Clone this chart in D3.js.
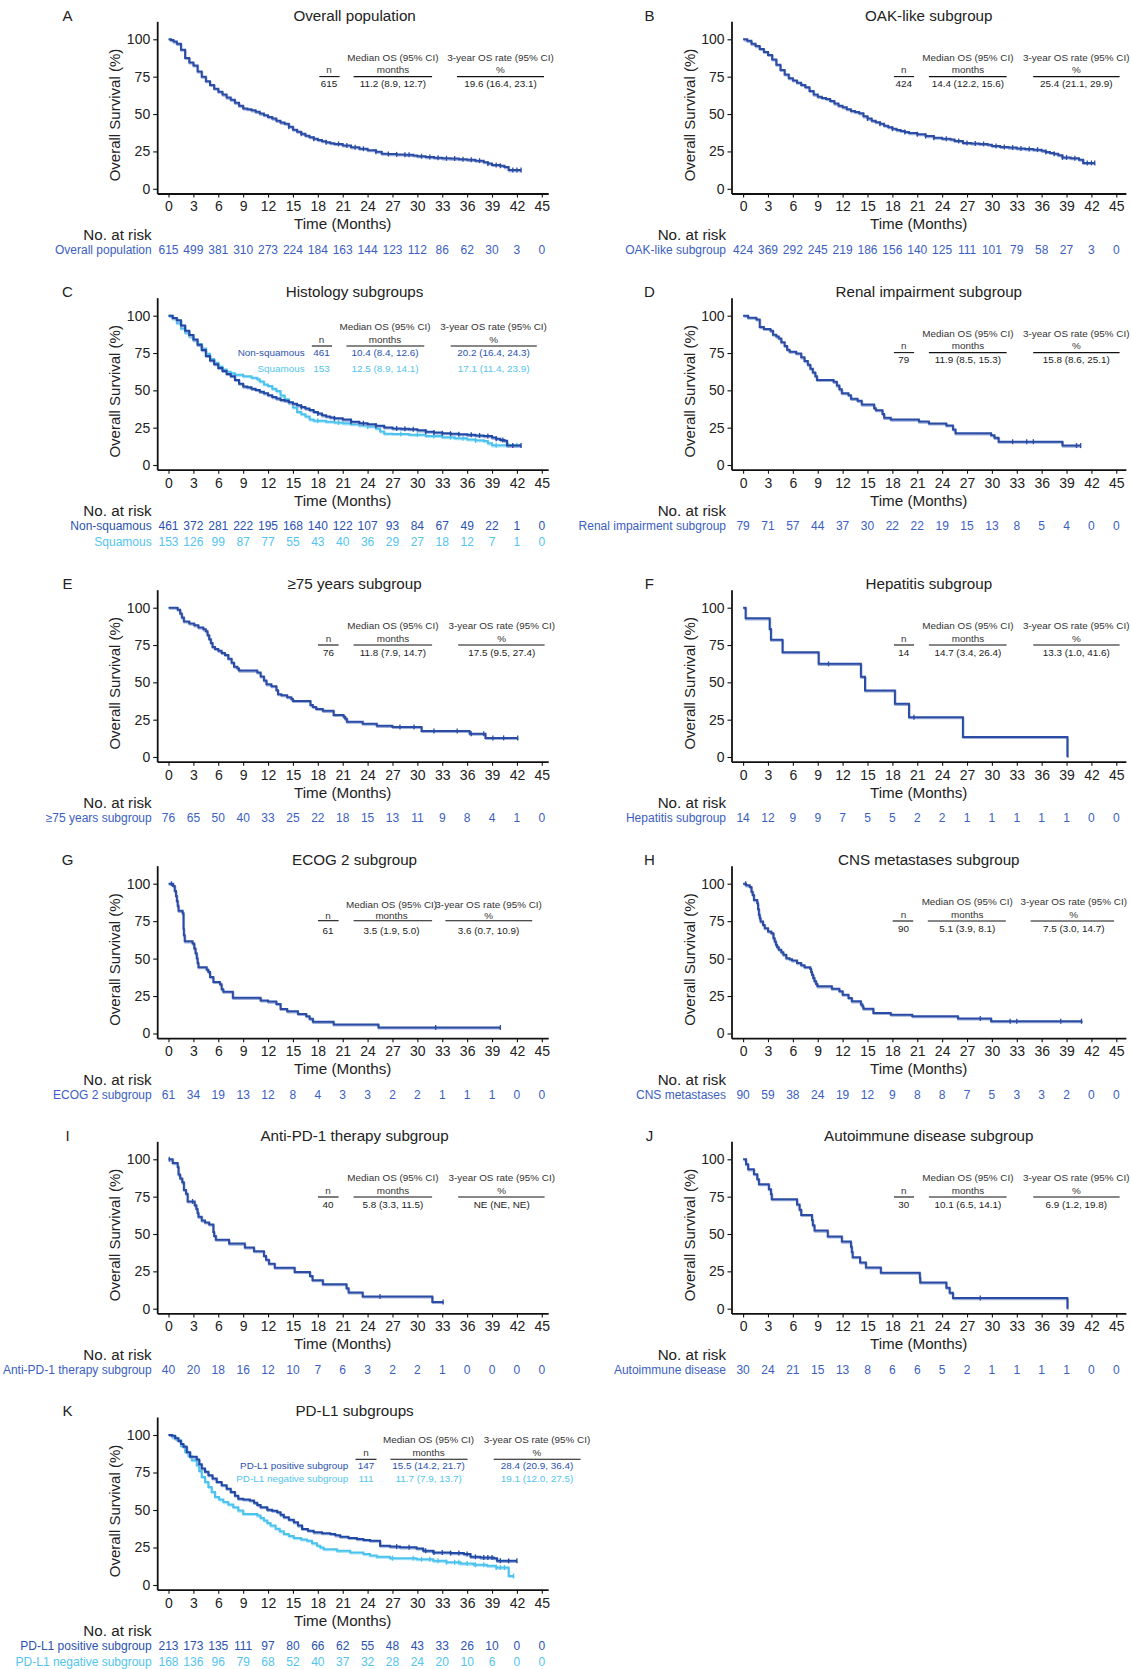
<!DOCTYPE html>
<html lang="en">
<head>
<meta charset="UTF-8">
<title>Overall survival by subgroup</title>
<script src="https://cdn.jsdelivr.net/npm/d3@7"></script>
<style>
  body { margin: 0; background: #fff; }
  svg text { font-family: "Liberation Sans", Arial, Helvetica, sans-serif; }
</style>
</head>
<body>
<svg id="chart" width="1132" height="1669"></svg>
<script>
// Axis tick labels
const timeTicks = [0, 3, 6, 9, 12, 15, 18, 21, 24, 27, 30, 33, 36, 39, 42, 45];
const survTicks = [0, 25, 50, 75, 100];

// Kaplan-Meier curves: [month, survival %]
const curveA = [[0,100],[0.3,99.5],[0.6,98.5],[1.0,97],[1.5,93],[2.0,87.5],[2.5,84.5],[3.0,82.5],[3.5,78.5],[4.0,75],[4.5,72],[5.0,69.5],[5.5,67],[6.0,65],[6.5,63],[7.0,61],[7.5,59.5],[8.0,57.5],[8.5,55.5],[9.0,53.7],[9.5,53.2],[10.0,52.5],[10.5,51.5],[11.0,50.3],[11.5,49.2],[12.0,48],[12.5,47],[13.0,45.5],[13.5,44.3],[14.0,43.5],[14.5,41.5],[15.0,39.5],[15.5,38.2],[16.0,36.8],[16.5,35.5],[17.0,34.5],[17.5,33.5],[18.0,32.6],[18.5,31.8],[19.0,31.2],[19.5,30.5],[20.0,30],[21.0,29],[22.0,27.8],[23.0,26.8],[24.0,25.8],[25.0,24.8],[25.7,23.5],[26.5,23.2],[27.5,23],[28.5,22.7],[29.5,22.3],[30.0,21.8],[31.0,21.2],[32.0,20.8],[33.0,20.4],[34.0,20.2],[35.0,19.8],[36.0,19.4],[37.0,18.8],[38.0,17.8],[38.5,17],[39.0,16],[40.0,15.5],[40.5,14.5],[41.0,12.5],[42.5,12.5]];
const censA = [14.5,16,17.5,19,20.5,21.5,22.5,23.5,25,26.5,27.5,28.5,29,30.5,31.5,32.5,33.5,34.5,35.5,36.5,37.5,38.5,39.5,40,41.5,42,42.5];

const curveB = [[0,100],[0.5,99],[1.0,97],[1.5,95.5],[2.0,93.5],[2.5,91.5],[3.0,89.5],[3.5,86.5],[4.0,83],[4.5,79.5],[5.0,76.5],[5.5,74],[6.0,72.5],[6.5,71],[7.0,69.5],[7.5,68],[8.0,65.5],[8.5,63],[9.0,61.5],[9.5,60.8],[10.0,60],[10.5,58.8],[11.0,57],[11.5,55.5],[12.0,54.5],[12.5,53.2],[13.0,52],[13.5,51.3],[14.0,50.5],[14.5,48.5],[15.0,47],[15.5,45.5],[16.0,44.5],[16.5,43.5],[17.0,42.2],[17.5,41.2],[18.0,40.2],[18.5,39.3],[19.0,38.7],[19.5,38],[20.0,37.3],[21.0,36.5],[22.0,35.3],[23.0,34.2],[24.0,33.5],[25.0,33],[25.5,32],[26.5,30.7],[27.5,30.3],[28.5,30],[29.5,29.5],[30.0,28.7],[31.0,28],[32.0,27.6],[33.0,27],[34.0,26.6],[35.0,26.2],[36.0,25.4],[36.5,24.6],[37.0,24],[37.5,23.5],[38.0,22.5],[38.5,21],[39.5,20.5],[40.5,19.5],[41.0,17.3],[42.4,17.3]];
const censB = [15,16.5,18,19.5,21,22,23,24.5,26,27,28,29,30.5,31.5,32.5,33.5,34.5,35.5,36.5,37.5,38.5,39,40,41.5,42,42.4];

const curveNonSq = [[0,100],[0.5,98.5],[1.0,97],[1.5,93.5],[2.0,90],[2.5,87],[3.0,84],[3.5,80.5],[4.0,77],[4.5,73],[5.0,70],[5.5,67.5],[6.0,65],[6.5,63],[7.0,61],[7.5,59.5],[8.0,57],[8.5,54.5],[9.0,52.5],[9.5,52],[10.0,51],[10.5,50.3],[11.0,49],[11.5,48],[12.0,46.8],[12.5,45.5],[13.0,44.5],[13.5,43.5],[14.0,43],[14.5,42],[15.0,41],[15.5,40],[16.0,38.8],[16.5,37.8],[17.0,36.8],[17.5,35.5],[18.0,34.5],[18.5,33.3],[19.0,32.5],[19.5,31.8],[20.0,31.3],[21.0,30.4],[22.0,29],[23.0,28],[24.0,27.3],[25.0,26.3],[26.0,25.2],[27.0,24.5],[28.0,24.2],[29.0,24],[30.0,23.2],[31.0,22.3],[32.0,21.8],[33.0,21.3],[34.0,21],[35.0,20.6],[36.0,20.2],[37.0,19.8],[38.0,19.4],[39.0,18.4],[39.5,17.6],[40.0,16.8],[40.5,16.3],[40.8,13],[42.5,13]];
const censNonSq = [16,18,20,22,23.5,25,27.5,28.5,29.5,31,32,33,34,35,36.5,37.5,38.5,39.5,40.3,41.5,42.5];
const curveSq = [[0,100],[0.5,98],[1.0,95],[1.5,91.5],[2.0,88.5],[2.5,86],[3.0,83.5],[3.5,81],[4.0,78],[4.5,74.5],[5.0,71],[5.5,68.5],[6.0,66],[6.5,64],[7.0,62.5],[7.5,61.5],[8.0,60.5],[9.0,59.5],[10.0,58.5],[10.7,57.4],[11.0,56],[11.5,54],[12.0,52.9],[12.5,51],[13.0,49.5],[13.5,46.5],[14.0,44],[14.5,41.5],[15.0,38.5],[15.5,35.5],[16.0,34],[16.5,32.5],[17.0,30.5],[17.5,29.7],[19.0,29],[20.0,28.5],[21.0,27.9],[22.0,27.3],[23.0,26.5],[24.0,25.8],[25.0,24.5],[25.5,22.5],[26.0,21],[27.0,20.8],[29.0,20.3],[31.0,19.5],[33.0,18.6],[34.5,18],[36.0,17.1],[37.0,16.5],[38.0,16],[38.5,14.5],[39.0,13.2],[42.5,13.2]];
const censSq = [18,20.5,24,28,30,32,34,35.5,37,39.5,41,42];

const curveRenal = [[0,100],[0.6,98.7],[1.6,97.5],[2.0,92.4],[2.5,91.1],[3.3,89.9],[3.6,87.3],[4.0,86.1],[4.3,84.8],[4.6,82.3],[5.0,79.7],[5.3,77.2],[5.6,75.9],[6.4,74.7],[7.0,72.1],[7.4,69.6],[7.8,67.1],[8.1,64.5],[8.4,62.0],[8.7,59.5],[8.9,57.0],[10.9,55.7],[11.3,53.2],[11.6,50.7],[11.9,48.1],[12.7,46.8],[13.0,44.3],[13.8,43.0],[14.3,40.5],[15.8,38.0],[16.0,36.7],[16.8,34.2],[17.0,31.6],[17.8,30.4],[21.2,29.1],[22.4,27.8],[24.5,26.5],[25.3,23.8],[25.6,21.2],[29.9,20.0],[30.3,18.2],[30.8,15.6],[38.5,13.0],[40.7,13.0]];
const censRenal = [32.5,34.2,35.0,40.2,40.7];

const curveOld = [[0,100],[1.1,98.7],[1.4,96.1],[1.6,93.4],[1.85,90.8],[2.5,89.5],[3.1,88.2],[3.6,86.8],[4.2,85.5],[4.5,84.2],[4.7,81.6],[4.9,78.9],[5.1,76.3],[5.3,73.7],[5.6,72.4],[6.0,71.1],[6.4,69.7],[6.8,68.4],[7.2,65.8],[7.6,63.2],[7.9,60.5],[8.3,59.2],[8.5,57.9],[10.7,56.6],[11.1,54.0],[11.5,51.3],[11.8,48.7],[12.4,47.4],[13.0,44.7],[13.2,42.1],[13.6,41.4],[14.3,40.1],[14.8,38.8],[15.0,37.5],[17.1,34.8],[17.4,33.5],[17.8,32.2],[18.6,30.9],[19.9,28.2],[21.1,26.9],[21.3,25.6],[21.5,23.6],[23.4,22.3],[25.1,20.9],[27.0,20.1],[30.5,17.4],[36.3,15.6],[38.2,12.8],[42.1,12.8]];
const censOld = [27.9,29.6,32,34.8,36.5,38,39.1,40.4,42.1];

const curveHep = [[0,100],[0.3,92.9],[3.2,85.7],[3.35,78.6],[4.75,70.2],[9.1,62.4],[14.2,53.7],[14.7,44.6],[18.3,35.6],[20.0,26.7],[26.5,13.4],[39.1,0]];
const censHep = [10.3,20.6];

const curveEcog = [[0,100],[0.55,98.4],[0.75,95.1],[0.9,91.8],[1.0,88.5],[1.1,85.2],[1.2,81.9],[1.7,80.3],[1.8,70],[1.85,65.6],[1.95,61.5],[2.9,60],[3.1,56.8],[3.25,53.5],[3.4,50.2],[3.5,47],[3.6,44.3],[4.6,42.6],[4.8,41],[5.0,37.7],[5.4,34.4],[6.2,32.8],[6.4,29.5],[6.6,27.9],[7.75,23.8],[11.1,22.1],[12.0,21.3],[13.0,19.7],[13.5,16.4],[14.3,14.8],[15.6,13.1],[16.6,11.5],[17.0,9.8],[17.4,7.8],[19.9,6.0],[25.3,4.0],[40,4.0]];
const censEcog = [0.35,32.2,40.0];

const curveCns = [[0,100],[0.35,98.9],[0.8,97.8],[1.0,94.7],[1.15,92.5],[1.3,89.1],[1.7,86.9],[1.8,83],[1.9,79.2],[2.0,76.9],[2.1,74.7],[2.4,72.5],[2.6,70.3],[3.0,68.1],[3.4,67],[3.65,63.6],[3.8,61.4],[3.95,59.2],[4.1,57.5],[4.3,55.9],[4.6,54.2],[4.85,52.5],[5.2,50.3],[5.6,49.6],[5.9,48.8],[6.5,47],[7.0,45.6],[7.4,44.3],[8.1,43],[8.2,41.1],[8.3,39.2],[8.45,37],[8.6,34.8],[8.8,33.1],[8.95,31.5],[10.7,29.9],[11.6,28.2],[12.0,25.9],[12.7,23.7],[13.1,21.5],[14.2,19.3],[14.4,18],[14.5,16.6],[15.7,13.7],[17.8,12.6],[20.4,11.5],[25.9,10],[29.9,8.2],[40.9,8.2]];
const censCns = [0.3,28.6,32.2,33,38.3,40.8];

const curvePd1 = [[0,100],[0.5,97.5],[1.1,94.9],[1.2,89.8],[1.4,87.2],[1.65,84.6],[1.85,79.5],[2.1,76.9],[2.3,71.8],[3.15,69.2],[3.35,66.7],[3.5,64.1],[3.6,61.5],[4.0,59.0],[4.4,57.7],[4.9,56.4],[5.4,51.3],[5.5,48.7],[5.7,46.2],[7.3,43.6],[9.2,41.0],[10.3,38.5],[11.5,35.3],[11.75,32.8],[12.1,30.1],[12.8,27.4],[15.2,24.6],[17.05,21.9],[17.35,19.1],[18.6,16.4],[21.45,13.7],[21.7,10.9],[23.4,8.2],[31.8,4.5],[33.1,4.5]];
const censPd1 = [0.1,2.9,25.5,33.1];

const curveAuto = [[0,100],[0.35,96.7],[0.6,93.3],[1.3,90],[1.7,86.7],[1.9,83.3],[3.1,80],[3.35,76.7],[3.45,73.3],[6.5,69.8],[6.8,66.3],[7.0,62.8],[8.3,59.3],[8.4,55.8],[8.6,52.3],[10.2,48.4],[11.9,44.9],[13.0,41.4],[13.1,38],[13.2,34.5],[14.1,31],[14.8,27.6],[16.6,24.1],[21.3,20.7],[21.35,17.6],[24.5,14.1],[24.9,10.6],[25.3,7.1],[39.1,0]];
const censAuto = [28.6];

const curvePos = [[0,100],[0.4,99.5],[0.8,97.8],[1.2,96],[1.5,94],[1.8,92.2],[2.2,88.5],[2.6,85.5],[3.4,83.7],[3.7,80.5],[4.0,77.6],[4.4,75.5],[4.8,73.2],[5.3,71],[5.8,68.7],[6.4,66.5],[7.0,64.2],[7.5,62],[8.0,59.5],[8.4,57.5],[9.0,57],[9.8,56.4],[10.3,54.8],[10.7,53.3],[11.1,51.9],[11.9,50.1],[12.5,49.5],[13.1,48.5],[13.5,46.8],[13.9,45.2],[14.5,43.5],[15.1,41.8],[15.6,39.6],[16.1,37.4],[16.8,36.2],[17.5,35.1],[18.5,34.5],[19.5,34],[20.1,33.1],[20.7,32.2],[21.7,31.4],[22.7,30.6],[23.5,30],[24.3,29.5],[25.5,26.2],[26.7,25.6],[27.9,25.1],[29.9,24.4],[30.7,22.8],[31.9,21.7],[34.0,21.3],[35.6,20.6],[36.4,18.8],[37.6,18.3],[39.2,17.9],[39.6,16.1],[42,16.1]];
const censPos = [27.5,29,31,32,33,34,35,36,37,38,38.5,39,40,41,42];
const curveNeg = [[0,100],[0.5,98.3],[1.0,96.6],[1.5,92.7],[2.0,88.8],[2.4,86],[2.8,83.2],[3.4,79.9],[3.7,76],[4.0,72],[4.4,68.6],[4.8,65.3],[5.2,62],[5.6,58.6],[6.1,57],[6.6,55.3],[7.2,53.6],[7.8,51.9],[8.4,49.6],[9.0,47.4],[10.7,46.3],[11.1,44.6],[11.5,43],[11.9,41.3],[12.3,39.6],[12.9,37.5],[13.4,35.8],[13.9,34],[14.5,32.6],[15.1,31.3],[16.0,30.4],[16.7,29.5],[17.3,27.8],[17.9,26.2],[18.3,25],[18.7,23.9],[20.3,22.8],[21.9,21.7],[23.5,20.6],[24.3,19.7],[25.1,18.8],[26.7,17.9],[29.9,17.2],[31.9,16.1],[33.5,15.2],[35.2,14.3],[36.8,13.5],[38.4,12.8],[39.5,11.6],[40.8,11.6],[41.0,6.0],[41.6,6.0]];
const censNeg = [27,29.5,30.5,31.5,32.5,33.5,34.5,35,36,37,38,39.5,40,40.5,41.6];

// Numbers at risk at each time tick
const riskA = [615,499,381,310,273,224,184,163,144,123,112,86,62,30,3,0];
const riskB = [424,369,292,245,219,186,156,140,125,111,101,79,58,27,3,0];
const riskNonSq = [461,372,281,222,195,168,140,122,107,93,84,67,49,22,1,0];
const riskSq = [153,126,99,87,77,55,43,40,36,29,27,18,12,7,1,0];
const riskRenal = [79,71,57,44,37,30,22,22,19,15,13,8,5,4,0,0];
const riskOld = [76,65,50,40,33,25,22,18,15,13,11,9,8,4,1,0];
const riskHep = [14,12,9,9,7,5,5,2,2,1,1,1,1,1,0,0];
const riskEcog = [61,34,19,13,12,8,4,3,3,2,2,1,1,1,0,0];
const riskCns = [90,59,38,24,19,12,9,8,8,7,5,3,3,2,0,0];
const riskPd1 = [40,20,18,16,12,10,7,6,3,2,2,1,0,0,0,0];
const riskAuto = [30,24,21,15,13,8,6,6,5,2,1,1,1,1,0,0];
const riskPos = [213,173,135,111,97,80,66,62,55,48,43,33,26,10,0,0];
const riskNeg = [168,136,96,79,68,52,40,37,32,28,24,20,10,6,0,0];

// Summary tables: n, median OS (95% CI), 3-year OS rate (95% CI)
const statsA = ["615", "11.2 (8.9, 12.7)", "19.6 (16.4, 23.1)"];
const statsB = ["424", "14.4 (12.2, 15.6)", "25.4 (21.1, 29.9)"];
const statsNonSq = ["461", "10.4 (8.4, 12.6)", "20.2 (16.4, 24.3)"];
const statsSq = ["153", "12.5 (8.9, 14.1)", "17.1 (11.4, 23.9)"];
const statsRenal = ["79", "11.9 (8.5, 15.3)", "15.8 (8.6, 25.1)"];
const statsOld = ["76", "11.8 (7.9, 14.7)", "17.5 (9.5, 27.4)"];
const statsHep = ["14", "14.7 (3.4, 26.4)", "13.3 (1.0, 41.6)"];
const statsEcog = ["61", "3.5 (1.9, 5.0)", "3.6 (0.7, 10.9)"];
const statsCns = ["90", "5.1 (3.9, 8.1)", "7.5 (3.0, 14.7)"];
const statsPd1 = ["40", "5.8 (3.3, 11.5)", "NE (NE, NE)"];
const statsAuto = ["30", "10.1 (6.5, 14.1)", "6.9 (1.2, 19.8)"];
const statsPos = ["147", "15.5 (14.2, 21.7)", "28.4 (20.9, 36.4)"];
const statsNeg = ["111", "11.7 (7.9, 13.7)", "19.1 (12.0, 27.5)"];

// Colours
const DARK = "#2a4ca5", DEEP = "#2049a5", LIGHT = "#4cc3ee";
const RISK = "#3a5ec2", RISK_DEEP = "#2a52b0", RISK_LIGHT = "#52c5ef";

// Layout: columns and rows
const colL = { axisX: 157.2, x0: 168.5, x45: 541.8, axisEnd: 548.2, letterX: 67.5, titleX: 354.6 };
const colR = { axisX: 731.5, x0: 743.1, x45: 1116.3, axisEnd: 1125.9, letterX: 649.4, titleX: 928.8 };
const rows = [
  { y100: 39.3, y0: 188.8 },
  { y100: 315.7, y0: 465 },
  { y100: 607.7, y0: 757 },
  { y100: 883.7, y0: 1033.5 },
  { y100: 1159.3, y0: 1308.7 },
  { y100: 1435, y0: 1585 }
];
const tblL = { n: [328.9, 319.3, 339.6], m: [392.9, 353.6, 432.1], r: [500.5, 457, 544] };
const tblR = { n: [903.7, 893.9, 914.1], m: [967.9, 928.9, 1006.6], r: [1076.3, 1033.2, 1119.6] };

const panels = [
  { letter: "A", title: "Overall population", col: colL, row: rows[0],
    curves: [{ pts: curveA, cens: censA, color: DARK }],
    risk: [{ label: "Overall population", vals: riskA, color: RISK }],
    table: { y: 57.3, cols: tblL, rows: [{ vals: statsA, color: "#222" }] } },
  { letter: "B", title: "OAK-like subgroup", col: colR, row: rows[0],
    curves: [{ pts: curveB, cens: censB, color: DARK }],
    risk: [{ label: "OAK-like subgroup", vals: riskB, color: RISK }],
    table: { y: 57.3, cols: tblR, rows: [{ vals: statsB, color: "#222" }] } },
  { letter: "C", title: "Histology subgroups", col: colL, row: rows[1],
    curves: [{ pts: curveSq, cens: censSq, color: LIGHT }, { pts: curveNonSq, cens: censNonSq, color: DEEP }],
    risk: [{ label: "Non-squamous", vals: riskNonSq, color: RISK_DEEP }, { label: "Squamous", vals: riskSq, color: RISK_LIGHT }],
    table: { y: 326.7, labelRight: 304.6, rowOffs: [26, 41.6],
      cols: { n: [321.4, 311.8, 332.1], m: [385, 346.4, 424.3], r: [493.6, 450.7, 536.8] },
      rows: [{ label: "Non-squamous", vals: statsNonSq, color: RISK_DEEP }, { label: "Squamous", vals: statsSq, color: RISK_LIGHT }] } },
  { letter: "D", title: "Renal impairment subgroup", col: colR, row: rows[1],
    curves: [{ pts: curveRenal, cens: censRenal, color: DARK }],
    risk: [{ label: "Renal impairment subgroup", vals: riskRenal, color: RISK }],
    table: { y: 333.3, cols: tblR, rows: [{ vals: statsRenal, color: "#222" }] } },
  { letter: "E", title: "\u226575 years subgroup", col: colL, row: rows[2],
    curves: [{ pts: curveOld, cens: censOld, color: DARK }],
    risk: [{ label: "\u226575 years subgroup", vals: riskOld, color: RISK }],
    table: { y: 625.7, cols: { n: [328.6, 317.9, 338.6], m: [392.9, 353.6, 432.1], r: [501.7, 458.2, 544.6] }, rows: [{ vals: statsOld, color: "#222" }] } },
  { letter: "F", title: "Hepatitis subgroup", col: colR, row: rows[2],
    curves: [{ pts: curveHep, cens: censHep, color: DARK }],
    risk: [{ label: "Hepatitis subgroup", vals: riskHep, color: RISK }],
    table: { y: 625.7, cols: tblR, rows: [{ vals: statsHep, color: "#222" }] } },
  { letter: "G", title: "ECOG 2 subgroup", col: colL, row: rows[3],
    curves: [{ pts: curveEcog, cens: censEcog, color: DARK }],
    risk: [{ label: "ECOG 2 subgroup", vals: riskEcog, color: RISK }],
    table: { y: 905, subOff: 11, lineOff: 15.7, rowOffs: [25.5],
      cols: { n: [327.9, 317.9, 338.6], m: [391.6, 353.6, 432.1], r: [488.6, 445.4, 532.2] }, rows: [{ vals: statsEcog, color: "#222" }] } },
  { letter: "H", title: "CNS metastases subgroup", col: colR, row: rows[3],
    curves: [{ pts: curveCns, cens: censCns, color: DARK }],
    risk: [{ label: "CNS metastases", vals: riskCns, color: RISK }],
    table: { y: 901.7, cols: { n: [903.4, 892.7, 913.2], m: [967.2, 927.8, 1005.8], r: [1073.7, 1030.6, 1114.1] }, rows: [{ vals: statsCns, color: "#222" }] } },
  { letter: "I", title: "Anti-PD-1 therapy subgroup", col: colL, row: rows[4],
    curves: [{ pts: curvePd1, cens: censPd1, color: DARK }],
    risk: [{ label: "Anti-PD-1 therapy subgroup", vals: riskPd1, color: RISK }],
    table: { y: 1177.7, cols: { n: [327.9, 317.9, 338.6], m: [392.9, 353.6, 432.1], r: [501.7, 458.2, 544.6] }, rows: [{ vals: statsPd1, color: "#222" }] } },
  { letter: "J", title: "Autoimmune disease subgroup", col: colR, row: rows[4],
    curves: [{ pts: curveAuto, cens: censAuto, color: DARK }],
    risk: [{ label: "Autoimmune disease", vals: riskAuto, color: RISK }],
    table: { y: 1177.7, cols: tblR, rows: [{ vals: statsAuto, color: "#222" }] } },
  { letter: "K", title: "PD-L1 subgroups", col: colL, row: rows[5],
    curves: [{ pts: curveNeg, cens: censNeg, color: LIGHT }, { pts: curvePos, cens: censPos, color: DEEP }],
    risk: [{ label: "PD-L1 positive subgroup", vals: riskPos, color: RISK_DEEP }, { label: "PD-L1 negative subgroup", vals: riskNeg, color: RISK_LIGHT }],
    table: { y: 1440, labelRight: 348.2, rowOffs: [26, 38.3],
      cols: { n: [366, 355.5, 376.5], m: [428.6, 390.4, 467.6], r: [537, 493.7, 580.6] },
      rows: [{ label: "PD-L1 positive subgroup", vals: statsPos, color: RISK_DEEP }, { label: "PD-L1 negative subgroup", vals: statsNeg, color: RISK_LIGHT }] } }
];

const svg = d3.select("#chart");

// survival value of a step curve at time t
function stepAt(pts, t) {
  let s = pts[0][1];
  for (const p of pts) {
    if (p[0] <= t) s = p[1];
    else break;
  }
  return s;
}

function drawTable(g, t) {
  const subOff = t.subOff || 12.7, lineOff = t.lineOff || 19.3, rowOffs = t.rowOffs || [26.7];
  const txt = (x, y, s, color, anchor) => g.append("text")
    .attr("x", x).attr("y", y).attr("dy", "0.35em")
    .attr("text-anchor", anchor || "middle")
    .attr("font-size", 9.9).attr("fill", color || "#333").text(s);

  txt(t.cols.m[0], t.y, "Median OS (95% CI)");
  txt(t.cols.r[0], t.y, "3-year OS rate (95% CI)");
  txt(t.cols.n[0], t.y + subOff, "n");
  txt(t.cols.m[0], t.y + subOff, "months");
  txt(t.cols.r[0], t.y + subOff, "%");

  ["n", "m", "r"].forEach(k => {
    g.append("line")
      .attr("x1", t.cols[k][1]).attr("x2", t.cols[k][2])
      .attr("y1", t.y + lineOff).attr("y2", t.y + lineOff)
      .attr("stroke", "#111").attr("stroke-width", 1.1);
  });

  t.rows.forEach((r, i) => {
    const yy = t.y + rowOffs[i];
    if (r.label) txt(t.labelRight, yy, r.label, r.color, "end");
    txt(t.cols.n[0], yy, r.vals[0], r.color);
    txt(t.cols.m[0], yy, r.vals[1], r.color);
    txt(t.cols.r[0], yy, r.vals[2], r.color);
  });
}

function drawPanel(p) {
  const c = p.col, r = p.row;
  const g = svg.append("g");

  const x = d3.scaleLinear().domain([0, 45]).range([c.x0, c.x45]);
  const y = d3.scaleLinear().domain([0, 100]).range([r.y0, r.y100]);
  const axisY = r.y0 + 4.7, axisTop = r.y100 - 18;

  // axis scales extend slightly beyond the data range, like ggplot's expansion
  const xa = d3.scaleLinear().domain([x.invert(c.axisX), x.invert(c.axisEnd)]).range([c.axisX, c.axisEnd]);
  const ya = d3.scaleLinear().domain([y.invert(axisY), y.invert(axisTop)]).range([axisY, axisTop]);

  const gx = g.append("g")
    .attr("transform", `translate(0,${axisY})`)
    .call(d3.axisBottom(xa).tickValues(timeTicks).tickSize(4).tickSizeOuter(0).tickPadding(4));
  const gy = g.append("g")
    .attr("transform", `translate(${c.axisX},0)`)
    .call(d3.axisLeft(ya).tickValues(survTicks).tickSize(4).tickSizeOuter(0).tickPadding(3));
  [gx, gy].forEach(a => {
    a.attr("font-family", null).attr("font-size", null);
    a.select(".domain").attr("stroke", "#111").attr("stroke-width", 1.8);
    a.selectAll(".tick line").attr("stroke", "#111").attr("stroke-width", 1.1);
    a.selectAll(".tick text").attr("font-size", 14).attr("fill", "#222");
  });

  // curves, with a faint lighter trace under each one as in the original
  const line = d3.line().x(d => x(d[0])).y(d => y(d[1])).curve(d3.curveStepAfter);
  p.curves.forEach(cv => {
    g.append("path")
      .datum(cv.pts)
      .attr("d", line)
      .attr("transform", "translate(0.6,1.1)")
      .attr("fill", "none")
      .attr("stroke", d3.interpolateRgb(cv.color, "#fff")(0.55))
      .attr("stroke-width", 2);
    g.append("path")
      .datum(cv.pts)
      .attr("d", line)
      .attr("fill", "none")
      .attr("stroke", cv.color)
      .attr("stroke-width", 2);
    g.selectAll(null)
      .data(cv.cens)
      .enter().append("line")
      .attr("x1", d => x(d)).attr("x2", d => x(d))
      .attr("y1", d => y(stepAt(cv.pts, d)) - 2.5)
      .attr("y2", d => y(stepAt(cv.pts, d)) + 2.5)
      .attr("stroke", cv.color)
      .attr("stroke-width", 1.3);
  });

  // letter, title, axis titles
  g.append("text").attr("x", c.letterX).attr("y", r.y100 - 24).attr("dy", "0.35em")
    .attr("text-anchor", "middle").attr("font-size", 15).attr("fill", "#222").text(p.letter);
  g.append("text").attr("x", c.titleX).attr("y", r.y100 - 24).attr("dy", "0.35em")
    .attr("text-anchor", "middle").attr("font-size", 15.2).attr("fill", "#222").text(p.title);
  g.append("text")
    .attr("transform", `translate(${c.axisX - 42},${(r.y0 + r.y100) / 2 + 1}) rotate(-90)`)
    .attr("dy", "0.35em").attr("text-anchor", "middle")
    .attr("font-size", 15).attr("fill", "#222").text("Overall Survival (%)");
  g.append("text").attr("x", (c.axisX + c.axisEnd) / 2 - 10).attr("y", r.y0 + 35.3).attr("dy", "0.35em")
    .attr("text-anchor", "middle").attr("font-size", 15.2).attr("fill", "#222").text("Time (Months)");

  // risk table
  g.append("text").attr("x", c.axisX - 5.5).attr("y", r.y0 + 46).attr("dy", "0.35em")
    .attr("text-anchor", "end").attr("font-size", 15.2).attr("fill", "#222").text("No. at risk");
  p.risk.forEach((rk, i) => {
    const yy = r.y0 + 61 + i * 15.7;
    g.append("text").attr("x", c.axisX - 5.5).attr("y", yy).attr("dy", "0.35em")
      .attr("text-anchor", "end").attr("font-size", 12).attr("fill", rk.color).text(rk.label);
    g.selectAll(null)
      .data(rk.vals)
      .enter().append("text")
      .attr("x", (d, j) => x(timeTicks[j]))
      .attr("y", yy).attr("dy", "0.35em")
      .attr("text-anchor", "middle").attr("font-size", 12).attr("fill", rk.color)
      .text(d => d);
  });

  drawTable(g, p.table);
}

panels.forEach(drawPanel);
</script>
</body>
</html>
